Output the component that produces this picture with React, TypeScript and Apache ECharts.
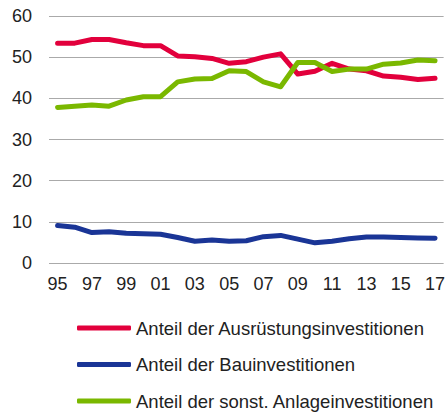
import React, { useEffect, useRef } from "react";
import * as echarts from "echarts";

const categories = ["95","96","97","98","99","00","01","02","03","04","05","06","07","08","09","10","11","12","13","14","15","16","17"];
const ausruestung = [53.4,53.4,54.3,54.3,53.5,52.8,52.8,50.3,50.1,49.7,48.5,48.9,50.0,50.8,45.9,46.6,48.5,47.1,46.7,45.4,45.1,44.6,44.9];
const bau = [9.1,8.7,7.4,7.6,7.2,7.1,7.0,6.2,5.3,5.6,5.3,5.4,6.4,6.7,5.8,4.9,5.3,5.9,6.3,6.3,6.2,6.1,6.0];
const sonstige = [37.8,38.1,38.4,38.1,39.6,40.4,40.4,44.0,44.7,44.8,46.7,46.5,44.0,42.8,48.7,48.7,46.5,47.1,47.1,48.3,48.6,49.3,49.1];
const seriesNames = ["Anteil der Ausrüstungsinvestitionen","Anteil der Bauinvestitionen","Anteil der sonst. Anlageinvestitionen"];
const colors = ["#e2003c","#1a3596","#7ab800"];

export default function App() {
  const ref = useRef<HTMLDivElement>(null);
  useEffect(() => {
    const chart = echarts.init(ref.current!, null, { renderer: "svg" });
    const font = "'Liberation Sans', Arial, sans-serif";
    const data = [ausruestung, bau, sonstige];
    chart.setOption({
      animation: false,
      textStyle: { fontFamily: font },
      grid: { left: 49, right: 2, top: 16, bottom: 151 },
      xAxis: {
        type: "category",
        data: categories,
        boundaryGap: true,
        axisLine: { show: false },
        axisTick: { show: false },
        axisLabel: { interval: 1, color: "#222", fontSize: 18, margin: 12, fontFamily: font },
      },
      yAxis: {
        type: "value",
        min: 0,
        max: 60,
        interval: 10,
        axisLine: { show: false },
        axisTick: { show: false },
        axisLabel: { color: "#222", fontSize: 18, margin: 17, fontFamily: font },
        splitLine: { lineStyle: { color: "#aaaaaa", width: 1 } },
      },
      legend: {
        orient: "vertical",
        left: 77,
        top: 318,
        padding: 0,
        itemWidth: 54,
        itemHeight: 5,
        itemGap: 16.5,
        icon: "roundRect",
        textStyle: { fontSize: 18.5, lineHeight: 20, color: "#222", fontFamily: font },
        data: seriesNames,
      },
      series: data.map((d, i) => ({
        name: seriesNames[i],
        type: "line",
        data: d,
        symbol: "none",
        color: colors[i],
        lineStyle: { width: 5, color: colors[i], cap: "round", join: "round" },
      })),
    });
    return () => chart.dispose();
  }, []);
  return <div ref={ref} style={{ width: 448, height: 414, position: "absolute", left: 0, top: 0 }} />;
}
